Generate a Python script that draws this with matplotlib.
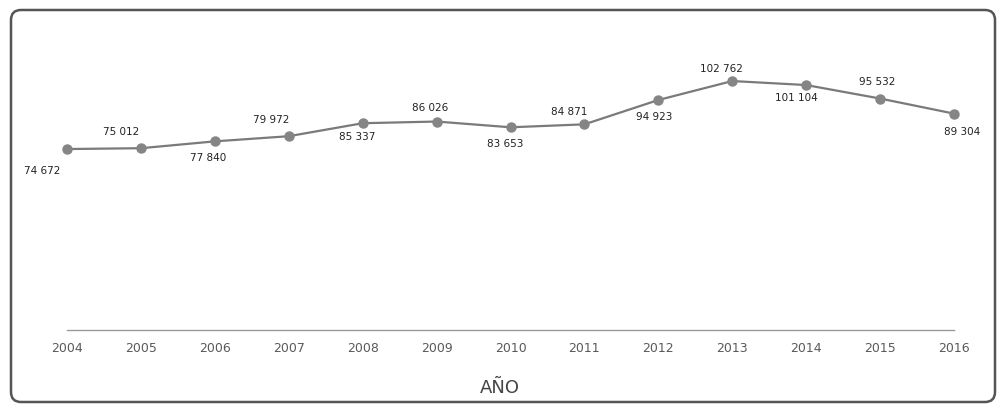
import matplotlib
matplotlib.use("Agg")
import matplotlib.pyplot as plt
from matplotlib.patches import FancyBboxPatch

years = ["2004", "2005", "2006", "2007", "2008", "2009", "2010",
         "2011", "2012", "2013", "2014", "2015", "2016"]
values = [74672, 75012, 77840, 79972, 85337, 86026, 83653,
          84871, 94923, 102762, 101104, 95532, 89304]
value_labels = ["74 672", "75 012", "77 840", "79 972", "85 337", "86 026", "83 653",
                "84 871", "94 923", "102 762", "101 104", "95 532", "89 304"]
x_title = "AÑO"

# label placement offsets (points), layout only
label_offsets = [(-18, -16), (-14, 12), (-5, -12), (-13, 12), (-4, -10), (-5, 10), (-4, -12),
                 (-11, 9), (-3, -12), (-8, 9), (-7, -9), (-2, 12), (6, -13)]

W, H = 998, 405
fig = plt.figure(figsize=(W / 100, H / 100), dpi=100)
fig.patch.set_facecolor("white")

ax = fig.add_axes([67 / W, 1 - 329.8 / H, (954 - 67) / W, 290.5 / H])
xs = list(range(len(years)))
ax.plot(xs, values, color="#7a7a7a", lw=1.6, marker="o", markersize=6.5,
        markerfacecolor="#858585", markeredgecolor="#858585", zorder=3, clip_on=False)

for x, v, lab, (dx, dy) in zip(xs, values, value_labels, label_offsets):
    ax.annotate(lab, (x, v), xytext=(dx, dy), textcoords="offset points",
                ha="center", va="center", fontsize=7.5, color="#222222",
                fontfamily="DejaVu Sans")

ax.set_xlim(0, len(years) - 1)
ax.set_ylim(0, 120000)
ax.set_yticks([])
ax.set_xticks(xs, labels=years)
ax.tick_params(axis="x", length=0, pad=9, labelsize=9, labelcolor="#5a5a5a")
for s in ["top", "right", "left"]:
    ax.spines[s].set_visible(False)
ax.spines["bottom"].set_color("#9a9a9a")
ax.spines["bottom"].set_linewidth(1.0)
ax.set_facecolor("none")

fig.text(500 / W, 1 - 388 / H, x_title, ha="center", va="center",
         fontsize=13, color="#444444")

frame = FancyBboxPatch((11, 3), 984, 392, boxstyle="round,pad=0,rounding_size=10",
                       transform=None, fill=False, edgecolor="#555555", linewidth=1.8)
fig.patches.append(frame)

fig.savefig("out.png", dpi=100, facecolor="white")
